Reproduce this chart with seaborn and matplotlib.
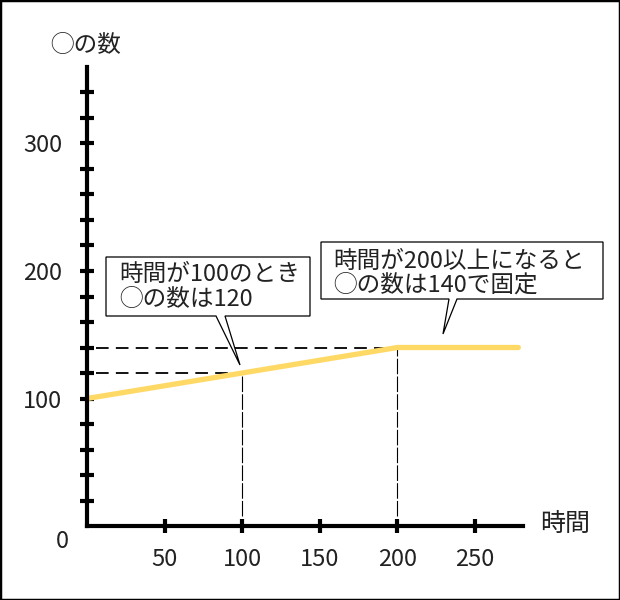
import numpy as np
import pandas as pd
import matplotlib
matplotlib.use('Agg')
import matplotlib.pyplot as plt
import matplotlib.transforms as mtransforms
from matplotlib.patches import Polygon, Rectangle
import seaborn as sns

# data
time = [0, 200, 278]
count = [100, 140, 140]
marked_time = [100, 200]
marked_count = [120, 140]
x_ticks = [50, 100, 150, 200, 250]
x_tick_labels = ['50', '100', '150', '200', '250']
y_ticks = [20, 40, 60, 80, 100, 120, 140, 160, 180, 200, 220, 240, 260, 280, 300, 320, 340]
y_tick_labels = ['', '', '', '', '100', '', '', '', '', '200', '', '', '', '', '300', '', '']
note1 = '時間が100のとき\n◯の数は120'
note2 = '時間が200以上になると\n◯の数は140で固定'

sns.set_style('white')
plt.rcParams['font.family'] = ['Noto Sans CJK JP', 'DejaVu Sans']

df = pd.DataFrame({'time': time, 'count': count})

fig = plt.figure(figsize=(6.2, 6.0), dpi=100)
ax = fig.add_axes([87 / 620, 74 / 600, 436 / 620, 459 / 600])
ax.set_xlim(0, 281)
ax.set_ylim(0, 360)

# pixel coords with top-left origin
px = mtransforms.Affine2D().scale(1 / 620, -1 / 600).translate(0, 1) + fig.transFigure

# guide lines
for t, c in zip(marked_time, marked_count):
    ax.plot([6, t], [c, c], color='black', lw=1.3, ls=(0, (7, 4)), zorder=2)
    ax.plot([t, t], [8, c], color='black', lw=0.8, ls=(0, (14, 2)), zorder=2)

sns.lineplot(data=df, x='time', y='count', ax=ax, color='#FFD966', lw=3.8, zorder=3)

for s in ['top', 'right']:
    ax.spines[s].set_visible(False)
for s in ['left', 'bottom']:
    ax.spines[s].set_linewidth(3)
    ax.spines[s].set_color('black')
    ax.spines[s].set_zorder(4)

ax.set_xticks(x_ticks, x_tick_labels)
ax.set_yticks(y_ticks, y_tick_labels)
ax.tick_params(axis='both', direction='inout', length=10, width=3, color='black',
               labelsize=17, labelcolor='#222222', bottom=True, left=True)
ax.tick_params(axis='y', pad=13)
ax.tick_params(axis='x', pad=11)
ax.set_xlabel('')
ax.set_ylabel('')
ax.grid(False)

fig.text(62 / 620, 1 - 541 / 600, '0', ha='center', va='center', fontsize=17, color='#222222')
fig.text(86 / 620, 1 - 45 / 600, '◯の数', ha='center', va='center', fontsize=17, color='#222222')
fig.text(565 / 620, 1 - 524 / 600, '時間', ha='center', va='center', fontsize=18, color='#222222')

# callouts
def callout(left, top, right, bottom, base0, base1, tip):
    pts = [(left, top), (right, top), (right, bottom), (base1, bottom), tip,
           (base0, bottom), (left, bottom)]
    poly = Polygon(pts, closed=True, facecolor='white', edgecolor='black', lw=0.9,
                   transform=px, zorder=6)
    fig.patches.append(poly)

callout(106, 257, 310, 316, 216, 225, (240, 365))
callout(321, 242, 603, 299, 449, 457, (443, 334))
fig.text(119 / 620, 1 - 287 / 600, note1, ha='left', va='center', fontsize=17,
         linespacing=1.15, color='#222222', zorder=7)
fig.text(333 / 620, 1 - 273 / 600, note2, ha='left', va='center', fontsize=17,
         linespacing=1.05, color='#222222', zorder=7)

fig.patches.append(Rectangle((0, 0), 1, 1, transform=fig.transFigure, fill=False,
                             edgecolor='black', lw=2.5, zorder=10))

fig.savefig('out.png', dpi=100)
